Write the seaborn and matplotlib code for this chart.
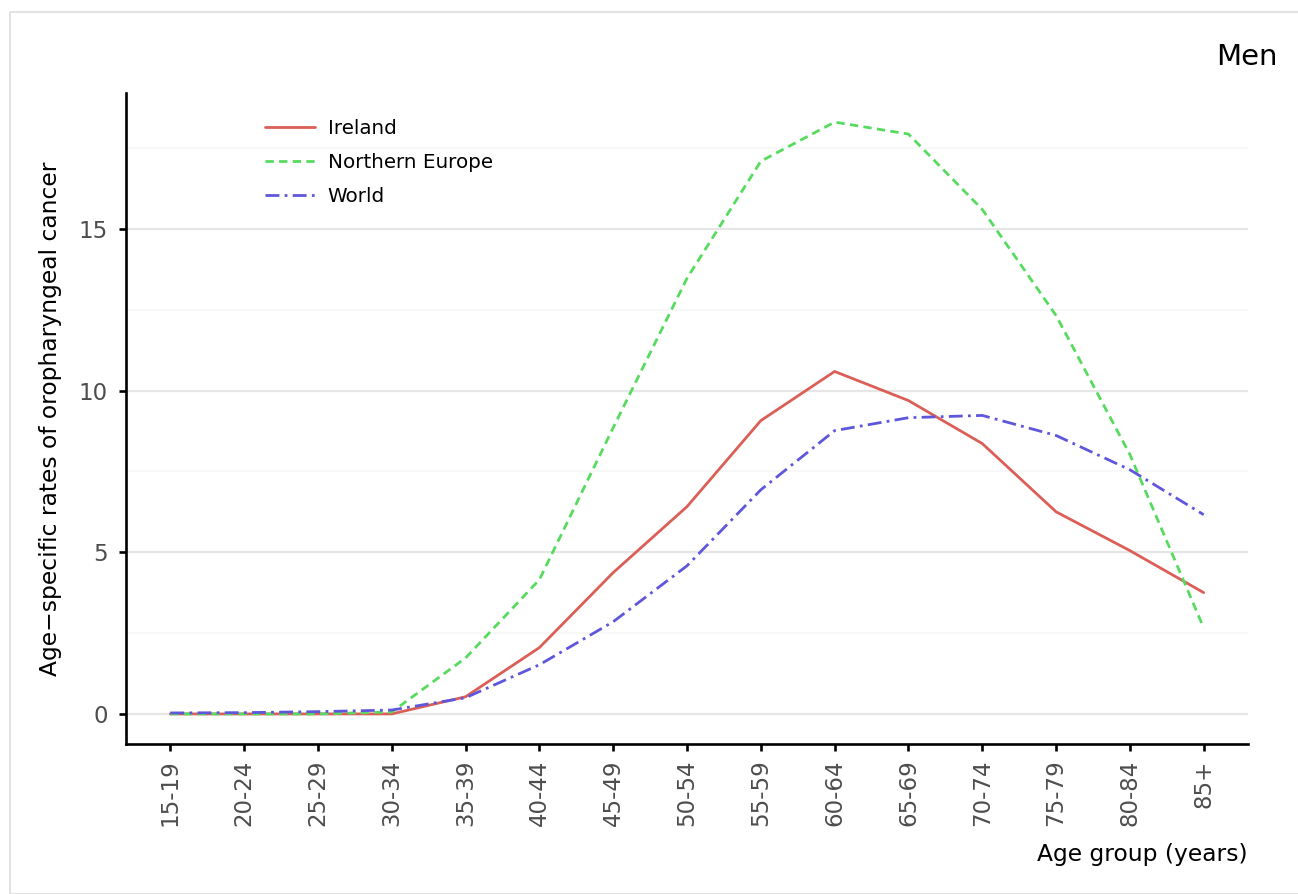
import numpy as np
import pandas as pd
import matplotlib.pyplot as plt
import matplotlib.patches as mpatches
import seaborn as sns

# ── Data ─────────────────────────────────────────────────────
age_groups = ['15-19', '20-24', '25-29', '30-34', '35-39', '40-44', '45-49',
              '50-54', '55-59', '60-64', '65-69', '70-74', '75-79', '80-84', '85+']
ireland = [0.0, 0.0, 0.0, 0.0, 0.53, 2.05, 4.37, 6.41, 9.07, 10.59, 9.69,
           8.36, 6.25, 5.05, 3.75]
northern_europe = [0.0, 0.0, 0.0, 0.06, 1.73, 4.15, 8.85, 13.47, 17.09, 18.30,
                   17.93, 15.60, 12.32, 8.02, 2.66]
world = [0.03, 0.04, 0.07, 0.12, 0.50, 1.52, 2.85, 4.58, 6.93, 8.76, 9.16,
         9.23, 8.61, 7.55, 6.16]
regions = ['Ireland', 'Northern Europe', 'World']

df = pd.DataFrame({
    'Age': age_groups * 3,
    'Rate': ireland + northern_europe + world,
    'Region': np.repeat(regions, len(age_groups)),
})

# ── Plot ─────────────────────────────────────────────────────
sns.set_style('white')
plt.rcParams['font.family'] = ['DejaVu Sans']
plt.rcParams['text.color'] = 'black'
plt.rcParams['axes.labelcolor'] = 'black'

fig = plt.figure(figsize=(12.98, 8.94), dpi=100)
ax = fig.add_axes([126 / 1298, 1 - 744 / 894, (1248 - 126) / 1298, (744 - 93) / 894])

# light frame around the panel
fig.patches.append(mpatches.Rectangle((10 / 1298, 0), 1.0, 1 - 12 / 894,
                                      transform=fig.transFigure, fill=False,
                                      edgecolor='#dddddd', linewidth=1.2))

palette = dict(zip(regions, sns.color_palette('hls', 3)))
dashes = {'Ireland': '', 'Northern Europe': (3.0, 1.9), 'World': (5.0, 1.9, 1.0, 1.9)}

sns.lineplot(data=df, x='Age', y='Rate', hue='Region', style='Region',
             palette=palette, dashes=dashes, sort=False, linewidth=2.0, ax=ax)

ax.set_xlim(-0.6, 14.6)
ax.set_ylim(-0.93, 19.2)
ax.set_yticks([0, 5, 10, 15])
ax.set_yticks([2.5, 7.5, 12.5, 17.5], minor=True)
ax.grid(axis='y', which='major', color='#e6e6e6', linewidth=1.6)
ax.grid(axis='y', which='minor', color='#f7f7f7', linewidth=1.2)
ax.grid(axis='x', visible=False)
ax.set_axisbelow(True)

for side in ['top', 'right']:
    ax.spines[side].set_visible(False)
for side in ['left', 'bottom']:
    ax.spines[side].set_color('black')
    ax.spines[side].set_linewidth(1.9)

ax.tick_params(axis='both', which='major', length=5, width=1.9, color='black',
               labelcolor='#4d4d4d', labelsize=16.5, direction='out',
               left=True, bottom=True)
ax.tick_params(axis='y', which='minor', length=0)
ax.tick_params(axis='x', labelrotation=90, pad=6)
ax.tick_params(axis='y', pad=8)

ax.set_xlabel('Age group (years)', fontsize=16.8, loc='right', labelpad=12)
ax.set_ylabel('Age\u2212specific rates of oropharyngeal cancer', fontsize=16.8, labelpad=12)

handles, labels = ax.get_legend_handles_labels()
ax.legend(handles[-3:], labels[-3:], loc='upper left',
          bbox_to_anchor=(265 / 1298, 1 - 119 / 894), bbox_transform=fig.transFigure,
          frameon=False, fontsize=14.3, handlelength=2.5, handletextpad=0.65,
          labelspacing=0.75, borderpad=0, borderaxespad=0)

fig.text(1278 / 1298, 1 - 57 / 894, 'Men', ha='right', va='center', fontsize=21)

plt.savefig('out.png', dpi=100)
